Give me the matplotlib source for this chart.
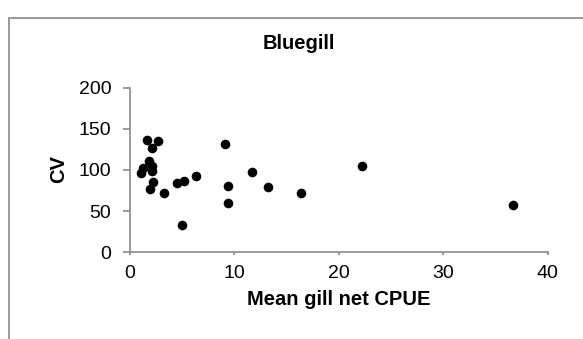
import matplotlib
matplotlib.use("Agg")
import matplotlib.pyplot as plt
from matplotlib.patches import Rectangle

# mean gill net CPUE and coefficient of variation per lake
cpue = [1.6, 2.7, 2.1, 9.1, 1.85, 2.1, 1.2, 2.1, 1.1, 11.65, 6.3, 2.2,
        1.9, 4.5, 5.2, 9.4, 13.2, 3.3, 9.4, 4.95, 16.4, 22.25, 36.65]
cv = [136, 135, 127, 131, 111, 105, 102, 99, 96.5, 97.7, 92.5, 85,
      77.5, 84.3, 86.4, 80.3, 79.5, 71.8, 60.4, 33.7, 72.2, 105, 58]

xticks = [0, 10, 20, 30, 40]
yticks = [0, 50, 100, 150, 200]

plt.rcParams['font.family'] = ['Liberation Sans', 'DejaVu Sans']
axis_grey = '#898989'

fig = plt.figure(figsize=(5.83, 3.39), dpi=100)
ax = fig.add_axes([130 / 583, 1 - 252.3 / 339, (547.7 - 130) / 583, (252.3 - 87.7) / 339])

ax.scatter(cpue, cv, s=48, color='black', linewidths=0, zorder=3, clip_on=False)

ax.set_xlim(0, 40)
ax.set_ylim(0, 200)
ax.set_xticks(xticks)
ax.set_yticks(yticks)
ax.tick_params(labelsize=14, colors=axis_grey, labelcolor='black',
               width=1.2, direction='out')
ax.tick_params(axis='x', length=2.5, pad=6.8)
ax.tick_params(axis='y', length=5, pad=8.4)
for side in ['top', 'right']:
    ax.spines[side].set_visible(False)
for side in ['left', 'bottom']:
    ax.spines[side].set_color(axis_grey)
    ax.spines[side].set_linewidth(1.2)

fig.text(298.5 / 583, 1 - 49.3 / 339, 'Bluegill', ha='center', va='baseline',
         fontsize=14.5, fontweight='bold')
fig.text(338.3 / 583, 1 - 305 / 339, 'Mean gill net CPUE', ha='center', va='baseline',
         fontsize=14.5, fontweight='bold')
fig.text(58.3 / 583, 1 - 169 / 339, 'CV', ha='center', va='center', rotation=90,
         fontsize=14.5, fontweight='bold')

# chart area border, running off the right and bottom edges
fig.patches.append(Rectangle((9 / 583, -0.1), 1.2, 1 - 18 / 339 + 0.1,
                             transform=fig.transFigure, fill=False,
                             edgecolor=axis_grey, linewidth=1.2))

fig.savefig('out.png', dpi=100)
